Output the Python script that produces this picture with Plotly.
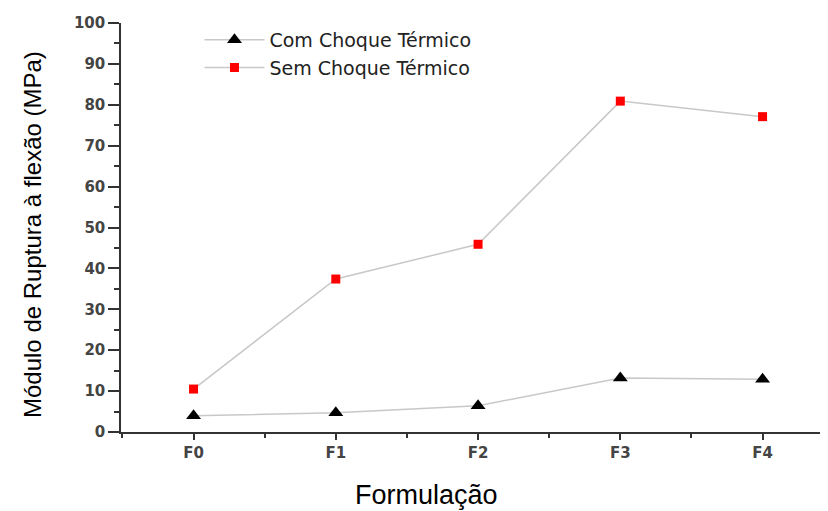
import plotly.graph_objects as go

categories = ["F0", "F1", "F2", "F3", "F4"]
com_choque = [4.0, 4.7, 6.4, 13.2, 12.9]
sem_choque = [10.5, 37.4, 45.9, 80.9, 77.1]
y_ticks = [0, 10, 20, 30, 40, 50, 60, 70, 80, 90, 100]

xpos = list(range(len(categories)))

fig = go.Figure()
fig.add_trace(go.Scatter(
    x=xpos, y=com_choque, mode="lines+markers", name="Com Choque Térmico",
    line=dict(color="#c8c8c8", width=1.5),
    marker=dict(symbol="triangle-up", size=13, color="black"),
))
fig.add_trace(go.Scatter(
    x=xpos, y=sem_choque, mode="lines+markers", name="Sem Choque Térmico",
    line=dict(color="#c8c8c8", width=1.5),
    marker=dict(symbol="square", size=9, color="#ff0000"),
))

tick_font = dict(size=15, color="#444", family="DejaVu Sans", weight="bold")

# page body has an 8px offset; margins compensate for it
PW = 707.0
PH = 409.0
fig.update_layout(
    width=828, height=511,
    margin=dict(l=113, r=8, t=15, b=87),
    paper_bgcolor="white", plot_bgcolor="white",
    font=dict(family="Liberation Sans, Arial", color="#222"),
    showlegend=True,
    legend=dict(
        x=0.111, y=1.005, xanchor="left", yanchor="top",
        bgcolor="rgba(0,0,0,0)", font=dict(size=19, color="#222", family="DejaVu Sans"),
        itemwidth=60, tracegroupgap=0,
    ),
    xaxis=dict(
        range=[-0.51, 4.46], tickmode="array", tickvals=xpos, ticktext=categories,
        automargin=False,
        showgrid=False, zeroline=False, showline=True, linecolor="#333", linewidth=1.5,
        ticks="outside", ticklen=6, tickwidth=1.5, tickcolor="#333",
        tickfont=tick_font,
        minor=dict(tickvals=[-0.5, 0.5, 1.5, 2.5, 3.5], ticks="outside", ticklen=4,
                   tickwidth=1.5, tickcolor="#333"),
    ),
    yaxis=dict(
        range=[0, 100], tickmode="array", tickvals=y_ticks, automargin=False,
        showgrid=False, zeroline=False, showline=True, linecolor="#333", linewidth=1.5,
        ticks="outside", ticklen=11, tickwidth=1.5, tickcolor="#333",
        tickfont=tick_font,
        minor=dict(dtick=5, ticks="outside", ticklen=5, tickwidth=1.5, tickcolor="#333"),
    ),
)

fig.add_annotation(
    text="Módulo de Ruptura à flexão (MPa)", xref="paper", yref="paper",
    x=(33 - 121) / PW, y=(432 - 235) / PH, textangle=-90,
    xanchor="center", yanchor="middle", showarrow=False,
    font=dict(size=24, color="black", family="Liberation Sans, Arial"),
)

fig.add_annotation(
    text="Formulação", xref="paper", yref="paper", x=(426 - 121) / PW, y=-0.155,
    xanchor="center", yanchor="middle", showarrow=False,
    font=dict(size=27, color="black", family="Liberation Sans, Arial"),
)

fig.write_html("out.html")
